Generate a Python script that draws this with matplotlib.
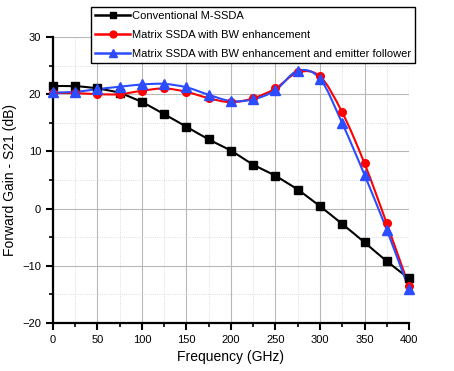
import numpy as np
import matplotlib
matplotlib.use('Agg')
import matplotlib.pyplot as plt
from matplotlib.path import Path
from matplotlib.patches import PathPatch
from matplotlib.ticker import MultipleLocator

plt.rcParams['font.family'] = ['Liberation Sans', 'DejaVu Sans']

freq = [0, 25, 50, 75, 100, 125, 150, 175, 200, 225, 250, 275, 300, 325, 350, 375, 400]
conv = [21.4, 21.4, 21.0, 20.2, 18.6, 16.5, 14.3, 12.1, 10.1, 7.7, 5.7, 3.3, 0.4, -2.7, -5.9, -9.2, -12.2]
bw_enh = [20.2, 20.2, 20.0, 20.0, 20.6, 21.0, 20.4, 19.3, 18.6, 19.3, 21.0, 23.8, 23.1, 16.8, 7.9, -2.6, -13.6]
bw_ef = [20.3, 20.4, 20.9, 21.3, 21.7, 21.8, 21.2, 19.9, 18.8, 19.1, 20.7, 24.1, 22.7, 14.9, 5.9, -3.7, -14.1]

labels = ['Conventional M-SSDA', 'Matrix SSDA with BW enhancement',
          'Matrix SSDA with BW enhancement and emitter follower']


def smooth_path(x, y):
    # Catmull-Rom through the points, drawn as cubic Bezier segments
    x = np.asarray(x, float)
    y = np.asarray(y, float)
    pts = np.column_stack([x, y])
    verts = [pts[0]]
    codes = [Path.MOVETO]
    n = len(pts)
    for i in range(n - 1):
        p0 = pts[i - 1] if i > 0 else pts[i]
        p1 = pts[i]
        p2 = pts[i + 1]
        p3 = pts[i + 2] if i + 2 < n else pts[i + 1]
        c1 = p1 + (p2 - p0) / 6.0
        c2 = p2 - (p3 - p1) / 6.0
        verts += [c1, c2, p2]
        codes += [Path.CURVE4] * 3
    return Path(verts, codes)


fig = plt.figure(figsize=(4.54, 3.71), dpi=100)
ax = fig.add_axes([0.1167, 0.1294, 0.7842, 0.7709])

series = [(conv, 'black', 's', 5.5), (bw_enh, 'red', 'o', 5.5), (bw_ef, '#2b4cff', '^', 6.5)]
handles = []
for (ys, c, m, ms), lab in zip(series, labels):
    ax.add_patch(PathPatch(smooth_path(freq, ys), fill=False, edgecolor=c, lw=1.5, zorder=3))
    ax.plot(freq, ys, linestyle='none', marker=m, color=c, ms=ms, zorder=4, clip_on=False)
    h, = ax.plot([], [], color=c, marker=m, ms=ms * 0.9, lw=1.8, label=lab)
    handles.append(h)

ax.set_xlim(0, 400)
ax.set_ylim(-20, 30)
ax.xaxis.set_major_locator(MultipleLocator(50))
ax.xaxis.set_minor_locator(MultipleLocator(25))
ax.yaxis.set_major_locator(MultipleLocator(10))
ax.yaxis.set_minor_locator(MultipleLocator(5))
ax.grid(which='major', color='#b8b8b8', lw=0.8)
ax.grid(which='minor', color='#d0d0d0', lw=0.6, linestyle=':')
ax.set_axisbelow(True)
for s in ['top', 'right']:
    ax.spines[s].set_visible(False)
for s in ['left', 'bottom']:
    ax.spines[s].set_linewidth(1.6)
ax.tick_params(which='major', direction='out', length=5, width=1.5, labelsize=8)
ax.tick_params(which='minor', direction='out', length=3, width=1.2)
ax.set_xlabel('Frequency (GHz)', fontsize=10)
ax.set_ylabel('Forward Gain - S21 (dB)', fontsize=10)

leg = fig.legend(handles=handles, loc='upper left', bbox_to_anchor=(0.2, 0.982),
                 prop={'size': 8.0}, frameon=True, fancybox=False, edgecolor='black',
                 handlelength=3.1, handletextpad=0.15, labelspacing=0.78,
                 borderpad=0.42, borderaxespad=0, framealpha=1)
leg.get_frame().set_linewidth(1.0)
leg.set_zorder(10)

fig.savefig('out.png', dpi=100)
